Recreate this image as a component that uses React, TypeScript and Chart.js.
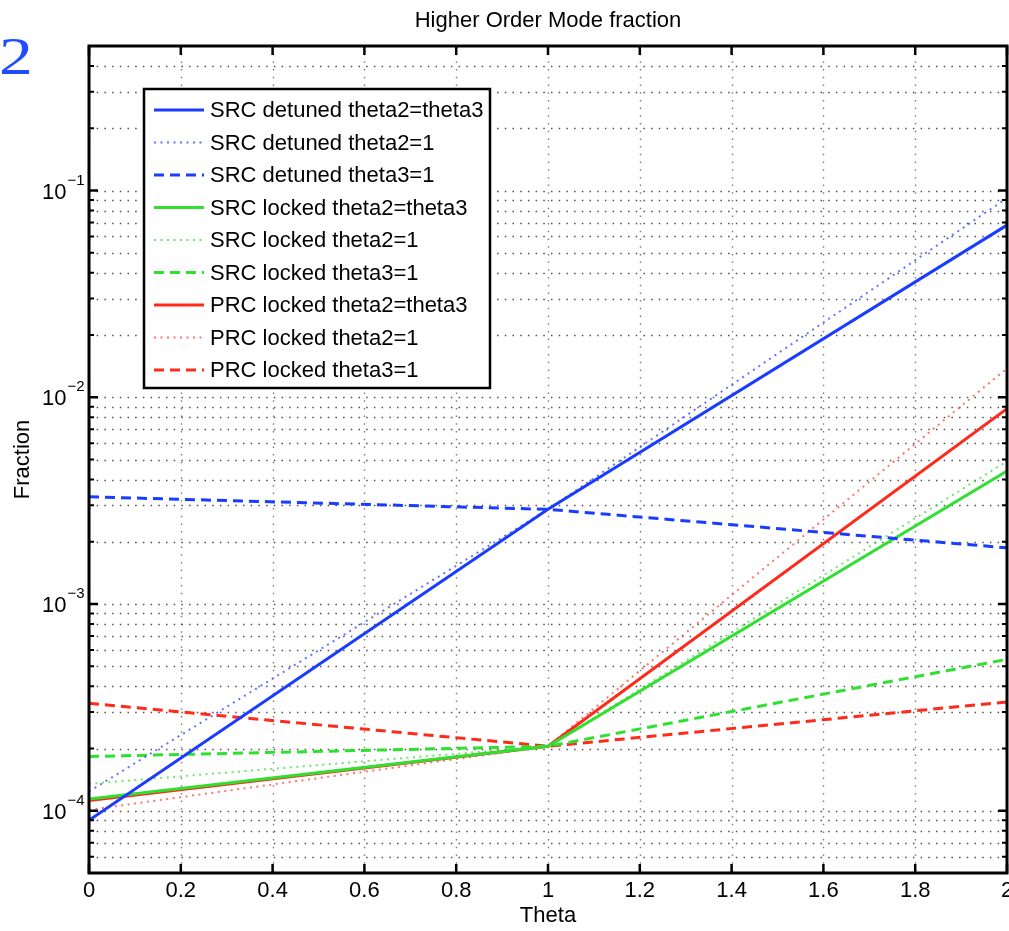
import React, { useEffect, useRef } from "react";
import { Chart, registerables } from "chart.js";

Chart.register(...registerables);

// ---------- data ----------
const THETA = [0, 1, 2];

const SRC_DETUNED_EQ = [9.0e-5, 2.87e-3, 6.8e-2];
const SRC_DETUNED_T2 = [1.24e-4, 2.87e-3, 9.2e-2];
const SRC_DETUNED_T3 = [3.3e-3, 2.87e-3, 1.87e-3];
const SRC_LOCKED_EQ = [1.14e-4, 2.05e-4, 4.4e-3];
const SRC_LOCKED_T2 = [1.35e-4, 2.05e-4, 4.9e-3];
const SRC_LOCKED_T3 = [1.83e-4, 2.05e-4, 5.4e-4];
const PRC_LOCKED_EQ = [1.12e-4, 2.05e-4, 8.8e-3];
const PRC_LOCKED_T2 = [1.01e-4, 2.05e-4, 1.38e-2];
const PRC_LOCKED_T3 = [3.31e-4, 2.05e-4, 3.36e-4];

const SERIES_LABELS = [
  "SRC detuned theta2=theta3",
  "SRC detuned theta2=1",
  "SRC detuned theta3=1",
  "SRC locked theta2=theta3",
  "SRC locked theta2=1",
  "SRC locked theta3=1",
  "PRC locked theta2=theta3",
  "PRC locked theta2=1",
  "PRC locked theta3=1",
];

const X_TICKS = [0, 0.2, 0.4, 0.6, 0.8, 1, 1.2, 1.4, 1.6, 1.8, 2];
const X_TICK_LABELS = ["0", "0.2", "0.4", "0.6", "0.8", "1", "1.2", "1.4", "1.6", "1.8", "2"];
const Y_DECADES = [1e-5, 1e-4, 1e-3, 1e-2, 1e-1];
const Y_DECADE_EXPONENTS = ["−5", "−4", "−3", "−2", "−1"];
const Y_MINOR_MULTIPLIERS = [2, 3, 4, 5, 6, 7, 8, 9];
const Y_MIN = 5e-5;
const Y_MAX = 0.5;

const TITLE = "Higher Order Mode fraction";
const X_TITLE = "Theta";
const Y_TITLE = "Fraction";

// ---------- styling ----------
const W = 1060;
const H = 931;
const AREA = { left: 89, top: 46, right: 1007, bottom: 873 };
const FONT = '"Liberation Sans", Arial, Helvetica, sans-serif';

const BLUE = "#1a3cff";
const GREEN = "#30e030";
const RED = "#ff2a1a";
const BLUE_DOT = "rgba(60,80,255,0.8)";
const GREEN_DOT = "rgba(60,220,60,0.75)";
const RED_DOT = "rgba(255,70,60,0.75)";

const SOLID: number[] = [];
const DOTTED = [2, 4.5];
const DASHED = [10, 6];

const SERIES_VALUES = [
  SRC_DETUNED_EQ,
  SRC_DETUNED_T2,
  SRC_DETUNED_T3,
  SRC_LOCKED_EQ,
  SRC_LOCKED_T2,
  SRC_LOCKED_T3,
  PRC_LOCKED_EQ,
  PRC_LOCKED_T2,
  PRC_LOCKED_T3,
];
const SERIES_COLORS = [BLUE, BLUE_DOT, BLUE, GREEN, GREEN_DOT, GREEN, RED, RED_DOT, RED];
const SERIES_DASH = [SOLID, DOTTED, DASHED, SOLID, DOTTED, DASHED, SOLID, DOTTED, DASHED];
const SERIES_WIDTH = [3, 2, 3, 3, 2, 3, 3, 2, 3];

function yGridValues(): { v: number; major: boolean }[] {
  const out: { v: number; major: boolean }[] = [];
  for (const d of Y_DECADES) {
    if (d > Y_MIN * 1.0001 && d < Y_MAX * 0.9999) out.push({ v: d, major: true });
    for (const m of Y_MINOR_MULTIPLIERS) {
      const v = d * m;
      if (v > Y_MIN * 1.0001 && v < Y_MAX * 0.9999) out.push({ v, major: false });
    }
  }
  return out;
}

const matlabPlugin = {
  id: "matlabLook",
  beforeDatasetsDraw(chart: any) {
    const { ctx, chartArea: a, scales } = chart;
    const xs = scales.x;
    const ys = scales.y;
    ctx.save();
    ctx.beginPath();
    ctx.rect(a.left, a.top, a.right - a.left, a.bottom - a.top);
    ctx.clip();
    ctx.strokeStyle = "rgba(50,50,50,0.85)";
    ctx.lineWidth = 1.4;
    ctx.setLineDash([1.5, 6.2]);
    for (const g of yGridValues()) {
      const y = Math.round(ys.getPixelForValue(g.v)) + 0.5;
      ctx.beginPath();
      ctx.moveTo(a.left, y);
      ctx.lineTo(a.right, y);
      ctx.stroke();
    }
    ctx.strokeStyle = "rgba(70,70,70,0.7)";
    for (const t of X_TICKS) {
      const x = Math.round(xs.getPixelForValue(t)) + 0.5;
      ctx.beginPath();
      ctx.moveTo(x, a.top);
      ctx.lineTo(x, a.bottom);
      ctx.stroke();
    }
    ctx.restore();
  },
  afterDatasetsDraw(chart: any) {
    const { ctx, chartArea: a, scales } = chart;
    const xs = scales.x;
    const ys = scales.y;
    ctx.save();
    ctx.setLineDash([]);
    ctx.strokeStyle = "#000";
    ctx.lineCap = "butt";

    // ticks (inward)
    ctx.lineWidth = 2.5;
    for (const t of X_TICKS) {
      const x = xs.getPixelForValue(t);
      ctx.beginPath();
      ctx.moveTo(x, a.bottom);
      ctx.lineTo(x, a.bottom - 9);
      ctx.moveTo(x, a.top);
      ctx.lineTo(x, a.top + 9);
      ctx.stroke();
    }
    for (const g of yGridValues()) {
      const y = ys.getPixelForValue(g.v);
      const len = g.major ? 9 : 5;
      ctx.lineWidth = g.major ? 2.5 : 2;
      ctx.beginPath();
      ctx.moveTo(a.left, y);
      ctx.lineTo(a.left + len, y);
      ctx.moveTo(a.right, y);
      ctx.lineTo(a.right - len, y);
      ctx.stroke();
    }

    // frame
    ctx.lineWidth = 3;
    ctx.strokeRect(a.left, a.top, a.right - a.left, a.bottom - a.top);

    // tick labels
    ctx.fillStyle = "#000";
    ctx.font = `22px ${FONT}`;
    ctx.textAlign = "center";
    ctx.textBaseline = "top";
    X_TICKS.forEach((t, i) => {
      ctx.fillText(X_TICK_LABELS[i], xs.getPixelForValue(t), a.bottom + 7);
    });
    Y_DECADES.forEach((d, i) => {
      if (d < Y_MIN || d > Y_MAX) return;
      const y = ys.getPixelForValue(d);
      ctx.font = `22px ${FONT}`;
      ctx.textAlign = "right";
      ctx.textBaseline = "middle";
      ctx.fillText("10", 66.5, y + 2);
      ctx.font = `15px ${FONT}`;
      ctx.textAlign = "left";
      ctx.fillText(Y_DECADE_EXPONENTS[i], 67.5, y - 10);
    });

    // titles
    ctx.font = `22px ${FONT}`;
    ctx.textAlign = "center";
    ctx.textBaseline = "middle";
    ctx.fillText(TITLE, (a.left + a.right) / 2, 21);
    ctx.fillText(X_TITLE, (a.left + a.right) / 2, 916);
    ctx.save();
    ctx.translate(23, (a.top + a.bottom) / 2);
    ctx.rotate(-Math.PI / 2);
    ctx.fillText(Y_TITLE, 0, 0);
    ctx.restore();

    // legend
    const box = { left: 144, top: 89, right: 490, bottom: 388 };
    ctx.fillStyle = "#fff";
    ctx.fillRect(box.left, box.top, box.right - box.left, box.bottom - box.top);
    ctx.lineWidth = 2.5;
    ctx.strokeStyle = "#000";
    ctx.strokeRect(box.left, box.top, box.right - box.left, box.bottom - box.top);
    chart.data.datasets.forEach((ds: any, i: number) => {
      const y = 110 + i * 32.5;
      ctx.save();
      ctx.strokeStyle = ds.borderColor;
      ctx.lineWidth = ds.borderWidth;
      ctx.setLineDash(ds.borderDash || []);
      ctx.beginPath();
      ctx.moveTo(154, y);
      ctx.lineTo(204, y);
      ctx.stroke();
      ctx.restore();
      ctx.fillStyle = "#000";
      ctx.font = `22px ${FONT}`;
      ctx.textAlign = "left";
      ctx.textBaseline = "middle";
      ctx.fillText(ds.label, 210, y + 1);
    });
    ctx.restore();
  },
};

export default function App() {
  const ref = useRef<HTMLCanvasElement>(null);
  useEffect(() => {
    const canvas = ref.current;
    if (!canvas) return;
    const datasets = SERIES_VALUES.map((vals, i) => ({
      label: SERIES_LABELS[i],
      data: THETA.map((t, j) => ({ x: t, y: vals[j] })),
      borderColor: SERIES_COLORS[i],
      borderDash: SERIES_DASH[i],
      borderWidth: SERIES_WIDTH[i],
      pointRadius: 0,
      fill: false,
      tension: 0,
    }));
    const chart = new Chart(canvas, {
      type: "line",
      data: { datasets },
      options: {
        animation: false,
        responsive: false,
        events: [],
        layout: {
          padding: { left: AREA.left, top: AREA.top, right: W - AREA.right, bottom: H - AREA.bottom },
        },
        plugins: {
          legend: { display: false },
          title: { display: false },
          tooltip: { enabled: false },
        },
        scales: {
          x: { type: "linear", min: 0, max: 2, display: false },
          y: { type: "logarithmic", min: Y_MIN, max: Y_MAX, display: false },
        },
      },
      plugins: [matlabPlugin],
    } as any);
    return () => chart.destroy();
  }, []);

  return (
    <div style={{ position: "absolute", left: 0, top: 0, width: 1009, height: 931, overflow: "hidden", background: "#fff" }}>
      <canvas ref={ref} width={W} height={H} style={{ position: "absolute", left: 0, top: 0, width: W, height: H }} />
      <div
        style={{
          position: "absolute",
          left: -1,
          top: 31,
          fontFamily: '"Liberation Serif", "Times New Roman", serif',
          fontSize: 52,
          lineHeight: "52px",
          color: "#1f4dff",
          transform: "scaleX(1.3)",
          transformOrigin: "left top",
        }}
      >
        2
      </div>
    </div>
  );
}
